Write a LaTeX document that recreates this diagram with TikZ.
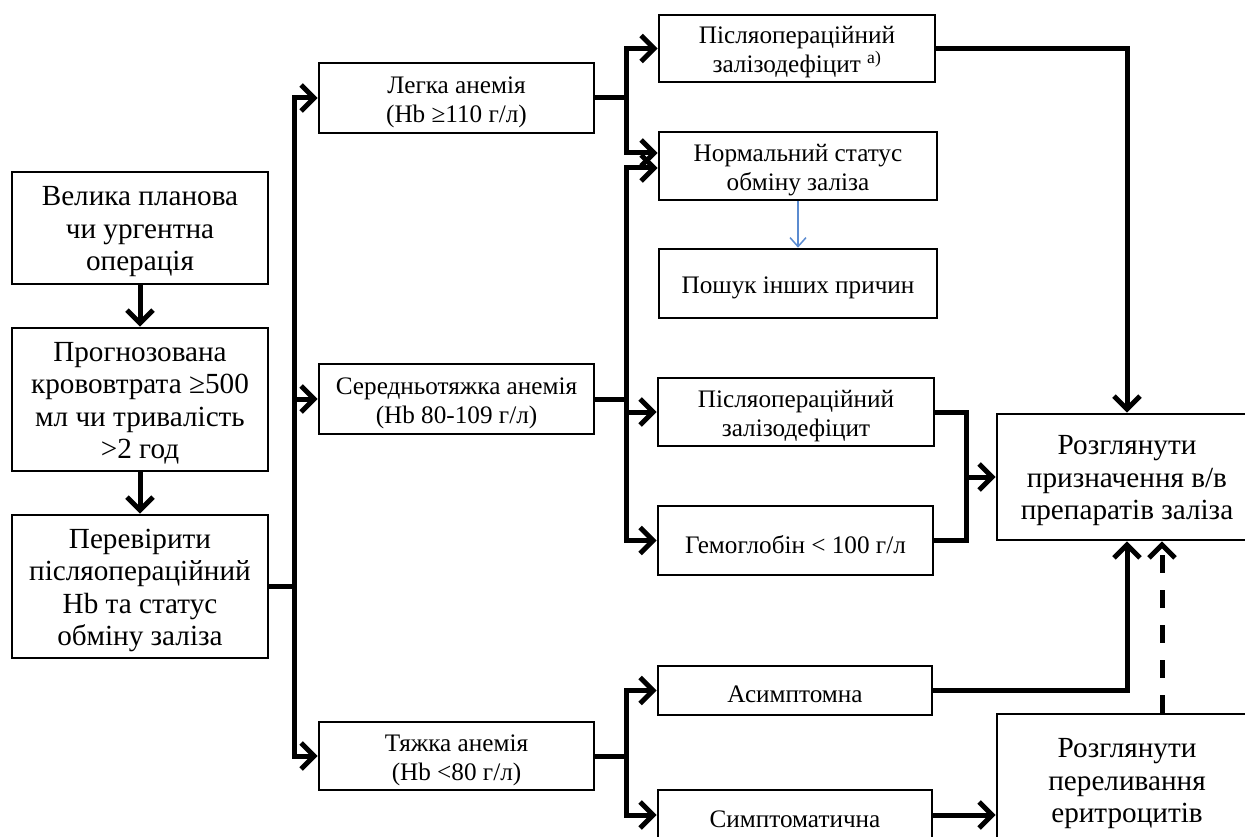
\documentclass[tikz,border=0pt]{standalone}
\usepackage{fontspec}
\setmainfont{Liberation Serif}
\usetikzlibrary{arrows.meta}
\definecolor{bluearr}{HTML}{5B8BD0}
\tikzset{
  box/.style={draw, line width=2.6pt, inner sep=0pt, anchor=center},
  bigt/.style={font=\fontsize{29.2}{32.5}\selectfont, align=center, yshift=-4pt},
  midt/.style={font=\fontsize{25.2}{29}\selectfont, align=center, yshift=-4pt},
  conn/.style={line width=5pt},
  arr/.style={conn, -{Straight Barb[length=13pt,width=26pt]}},
}
\begin{document}
\begin{tikzpicture}[x=1pt,y=-1pt]
\useasboundingbox (0,0) rectangle (1245,837);
\clip (0,0) rectangle (1245,837);
% left column
\node[box,minimum width=256,minimum height=112,label={[bigt]center:{Велика планова\\чи ургентна\\операція}}] (A) at (140,228) {};
\node[box,minimum width=256,minimum height=143,label={[bigt]center:{Прогнозована\\крововтрата ≥500\\мл чи тривалість\\>2 год}}] (B) at (140,399.5) {};
\node[box,minimum width=256,minimum height=143,label={[bigt]center:{Перевірити\\післяопераційний\\Hb та статус\\обміну заліза}}] (C) at (140,586.5) {};
% anemia level
\node[box,minimum width=275,minimum height=70,label={[midt]center:{Легка анемія\\(Hb ≥110 г/л)}}] (D) at (456.5,98) {};
\node[box,minimum width=275,minimum height=70,label={[midt]center:{Середньотяжка анемія\\(Hb 80-109 г/л)}}] (E) at (456.5,399) {};
\node[box,minimum width=275,minimum height=68,label={[midt]center:{Тяжка анемія\\(Hb <80 г/л)}}] (F) at (456.5,756) {};
% third column
\node[box,minimum width=276,minimum height=67,label={[midt]center:{Післяопераційний\\залізодефіцит \textsuperscript{a)}}}] (G) at (797,48.5) {};
\node[box,minimum width=278,minimum height=68,label={[midt]center:{Нормальний статус\\обміну заліза}}] (H) at (798,166) {};
\node[box,minimum width=278,minimum height=69,label={[midt]center:{Пошук інших причин}}] (I) at (798,283.5) {};
\node[box,minimum width=276,minimum height=68,label={[midt]center:{Післяопераційний\\залізодефіцит}}] (J) at (796,412) {};
\node[box,minimum width=275,minimum height=69,label={[midt]center:{Гемоглобін < 100 г/л}}] (K) at (795.5,540.5) {};
\node[box,minimum width=274,minimum height=49,label={[midt]center:{Асимптомна}}] (N) at (795,690.5) {};
\node[box,minimum width=274,minimum height=50,label={[midt]center:{Симптоматична}}] (O) at (795,815) {};
% right column
\node[box,minimum width=260,minimum height=126,label={[bigt]center:{Розглянути\\призначення в/в\\препаратів заліза}}] (L) at (1127,477) {};
\node[box,minimum width=260,minimum height=132,label={[bigt]center:{Розглянути\\переливання\\еритроцитів}}] (M) at (1127,780) {};
% connectors left column
\draw[arr] (A.south) -- (B.north);
\draw[arr] (B.south) -- (C.north);
\draw[conn] (C.east) -- ++(25,0) coordinate (t0);
\draw[arr] (t0) |- (D.west);
\draw[arr] (t0) |- (E.west);
\draw[arr] (t0) |- (F.west);
% from D
\draw[conn] (D.east) -- ++(31,0) coordinate (d0);
\draw[arr] (d0) |- (G.west);
\draw[arr] (d0) |- ([yshift=13pt]H.west);
% from E
\draw[conn] (E.east) -- ++(31,0) coordinate (e0);
\draw[arr] (e0) |- ([yshift=-2pt]H.west);
\draw[arr] (e0) |- (J.west);
\draw[arr] (e0) |- (K.west);
% from F
\draw[conn] (F.east) -- ++(31,0) coordinate (f0);
\draw[arr] (f0) |- (N.west);
\draw[arr] (f0) |- (O.west);
% blue arrow
\draw[bluearr, line width=1.5pt, -{Straight Barb[length=9pt,width=16pt]}] (H.south) -- (I.north);
% to L
\draw[arr] (G.east) -| (L.north);
\draw[conn] (J.east) -- ++(31,0) coordinate (j0) -- (j0 |- K.east) -- (K.east);
\draw[arr] (j0 |- L.west) -- (L.west);
\draw[arr] (N.east) -| (L.south);
\draw[arr] (O.east) -- (O.east -| M.west);
\draw[conn, dash pattern=on 18pt off 17pt, -{Straight Barb[length=13pt,width=26pt]}] ([xshift=35pt]M.north) -- ([xshift=35pt]L.south);
\end{tikzpicture}
\end{document}
